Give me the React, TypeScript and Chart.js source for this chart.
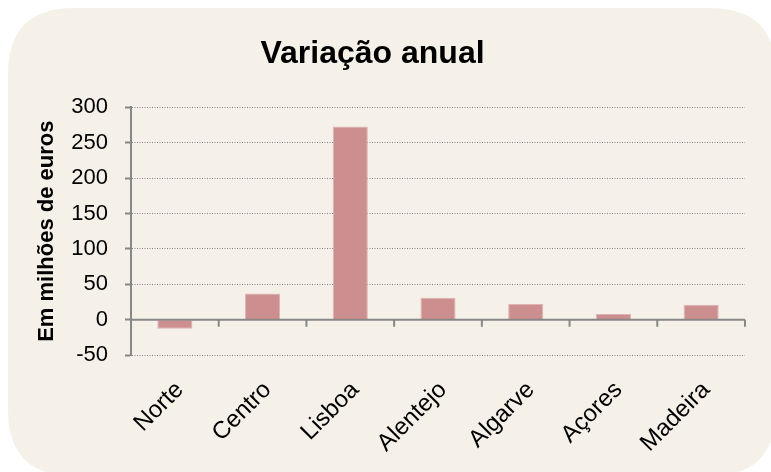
import React, { useEffect, useRef } from "react";
import { Chart, registerables } from "chart.js";

Chart.register(...registerables);

const categories = ["Norte", "Centro", "Lisboa", "Alentejo", "Algarve", "Açores", "Madeira"];
const values = [-13, 37, 273, 31, 22, 8, 21];
const yTicks = [-50, 0, 50, 100, 150, 200, 250, 300];
const titleText = "Variação anual";
const yTitle = "Em milhões de euros";

const FONT = "'Liberation Sans', Arial, sans-serif";
const AXIS = "#878787";

const panelPlugin = {
  id: "panel",
  beforeDraw(chart: any) {
    const { ctx } = chart;
    ctx.save();
    ctx.fillStyle = "#ffffff";
    ctx.fillRect(0, 0, chart.width, chart.height);
    const x = 8, y = 8, w = 768, h = 468, r = 66;
    ctx.beginPath();
    ctx.moveTo(x + r, y);
    ctx.lineTo(x + w - r, y);
    ctx.quadraticCurveTo(x + w, y, x + w, y + r);
    ctx.lineTo(x + w, y + h - r);
    ctx.quadraticCurveTo(x + w, y + h, x + w - r, y + h);
    ctx.lineTo(x + r, y + h);
    ctx.quadraticCurveTo(x, y + h, x, y + h - r);
    ctx.lineTo(x, y + r);
    ctx.quadraticCurveTo(x, y, x + r, y);
    ctx.closePath();
    ctx.fillStyle = "#F5F1E9";
    ctx.fill();
    ctx.restore();
  },
};

const zeroAxisPlugin = {
  id: "zeroAxis",
  afterDatasetsDraw(chart: any) {
    const { ctx, scales, chartArea } = chart;
    const xs = scales.x;
    const ys = scales.y;
    const y0 = ys.getPixelForValue(0);
    const step = xs.getPixelForValue(1) - xs.getPixelForValue(0);
    ctx.save();
    ctx.strokeStyle = AXIS;
    ctx.lineWidth = 2;
    ctx.beginPath();
    ctx.moveTo(chartArea.left, y0);
    ctx.lineTo(chartArea.right, y0);
    for (let i = 1; i <= categories.length; i++) {
      const bx = xs.getPixelForValue(0) - step / 2 + i * step;
      ctx.moveTo(bx, y0);
      ctx.lineTo(bx, y0 + 7);
    }
    ctx.stroke();
    ctx.restore();
  },
};

export default function App() {
  const ref = useRef<HTMLCanvasElement | null>(null);
  useEffect(() => {
    if (!ref.current) return;
    const chart = new Chart(ref.current, {
      type: "bar",
      data: {
        labels: categories,
        datasets: [
          {
            data: values,
            backgroundColor: "#CC8E8F",
            borderColor: "#DDB3B3",
            borderWidth: 1,
            categoryPercentage: 1,
            barPercentage: 0.4,
          },
        ],
      },
      plugins: [panelPlugin, zeroAxisPlugin],
      options: {
        responsive: false,
        animation: false,
        layout: { padding: { left: 0, right: 26, top: 0, bottom: 0 } },
        plugins: {
          legend: { display: false },
          tooltip: { enabled: false },
          title: {
            display: true,
            text: titleText,
            color: "#000000",
            font: { family: FONT, size: 32, weight: "bold" },
            padding: { top: 35, bottom: 34 },
          },
        },
        scales: {
          x: {
            grid: { display: false, drawTicks: false },
            border: { display: false },
            ticks: {
              color: "#000000",
              font: { family: FONT, size: 24 },
              maxRotation: 45,
              minRotation: 45,
              padding: 21,
              labelOffset: 5,
              autoSkip: false,
            },
            afterFit(scale: any) {
              scale.height = 117;
            },
          },
          y: {
            min: -50,
            max: 300,
            afterBuildTicks(scale: any) {
              scale.ticks = yTicks.map((v) => ({ value: v }));
            },
            grid: {
              color: (c: any) => (c.tick && c.tick.value === 0 ? "rgba(0,0,0,0)" : "#858585"),
              lineWidth: 1,
              tickColor: AXIS,
              tickWidth: 2,
              tickLength: 6,
              tickBorderDash: [],
            },
            border: { display: true, color: AXIS, width: 2, dash: [1, 1.5] },
            ticks: {
              color: "#000000",
              font: { family: FONT, size: 22 },
              padding: 17,
            },
            title: {
              display: true,
              text: yTitle,
              color: "#000000",
              font: { family: FONT, size: 22, weight: "bold" },
              padding: { top: 34, bottom: 0 },
            },
            afterFit(scale: any) {
              scale.width = 131;
            },
          },
        },
      },
    } as any);
    return () => chart.destroy();
  }, []);
  return (
    <div style={{ position: "fixed", left: 0, top: 0, width: 771, height: 472 }}>
      <canvas ref={ref} width={771} height={472} style={{ width: 771, height: 472 }} />
    </div>
  );
}
